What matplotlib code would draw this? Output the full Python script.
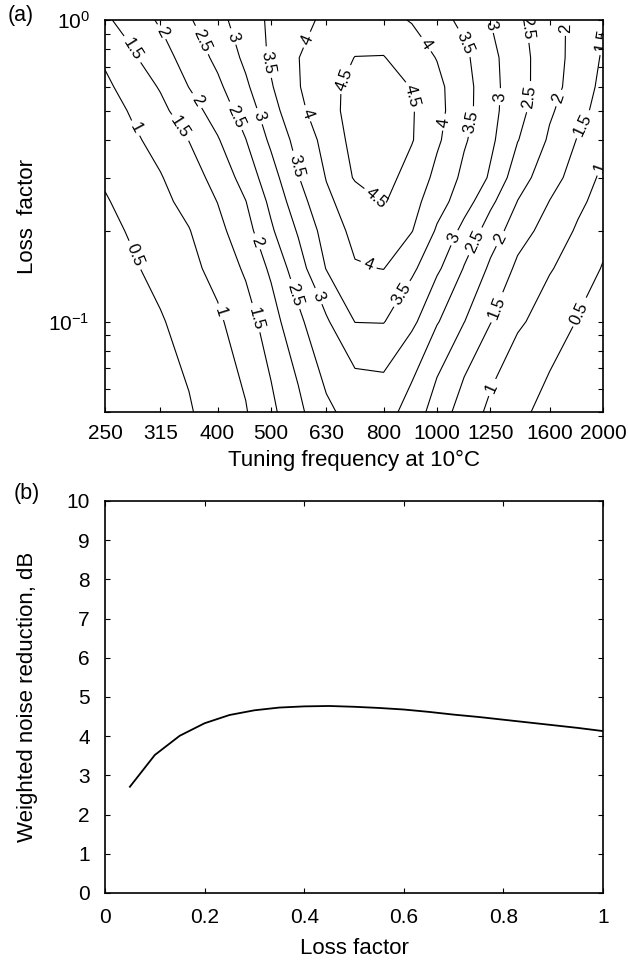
import numpy as np
import matplotlib.pyplot as plt
from matplotlib.ticker import NullLocator, NullFormatter

plt.rcParams['font.family'] = ['Liberation Sans', 'DejaVu Sans']
plt.rcParams['mathtext.default'] = 'regular'

### data ###

# 1/6-octave grid of tuning frequencies (Hz) and the loss factors
freq = [250, 280, 315, 355, 400, 450, 500, 560, 630, 710, 800,
        900, 1000, 1120, 1250, 1400, 1600, 1800, 2000]
loss = [0.05, 0.1, 0.15, 0.2, 0.25, 0.3, 0.4, 0.5, 0.6, 0.75, 1.0]

# weighted noise reduction (dB), one row per loss factor
nr_005 = [0.05, 0.15, 0.30, 0.46, 0.72, 0.97, 1.39, 1.88, 2.42, 2.66, 2.71, 2.28, 1.76, 1.27, 0.89, 0.60, 0.35, 0.20, 0.05]
nr_010 = [0.10, 0.27, 0.46, 0.69, 0.92, 1.29, 1.79, 2.39, 2.94, 3.51, 3.52, 3.12, 2.54, 2.01, 1.52, 1.08, 0.76, 0.48, 0.19]
nr_015 = [0.23, 0.44, 0.66, 0.87, 1.16, 1.58, 2.09, 2.79, 3.52, 3.96, 4.01, 3.60, 3.09, 2.47, 1.91, 1.40, 1.04, 0.75, 0.47]
nr_020 = [0.35, 0.56, 0.77, 0.98, 1.36, 1.82, 2.43, 3.05, 3.72, 4.14, 4.32, 4.02, 3.44, 2.85, 2.27, 1.72, 1.28, 0.94, 0.66]
nr_025 = [0.46, 0.67, 0.88, 1.15, 1.51, 1.99, 2.62, 3.30, 3.91, 4.25, 4.54, 4.17, 3.71, 3.22, 2.61, 1.99, 1.49, 1.11, 0.80]
nr_030 = [0.56, 0.77, 0.97, 1.28, 1.67, 2.21, 2.80, 3.48, 4.02, 4.55, 4.66, 4.32, 3.87, 3.38, 2.94, 2.21, 1.70, 1.27, 0.90]
nr_040 = [0.71, 0.91, 1.18, 1.51, 1.96, 2.49, 3.10, 3.68, 4.16, 4.68, 4.76, 4.53, 4.08, 3.56, 3.10, 2.52, 1.93, 1.47, 1.12]
nr_050 = [0.75, 1.06, 1.38, 1.78, 2.23, 2.73, 3.32, 3.88, 4.32, 4.70, 4.75, 4.54, 4.14, 3.68, 3.15, 2.67, 2.07, 1.66, 1.30]
nr_060 = [0.90, 1.22, 1.54, 2.01, 2.40, 2.92, 3.46, 3.97, 4.35, 4.65, 4.68, 4.48, 4.12, 3.68, 3.17, 2.69, 2.20, 1.75, 1.38]
nr_075 = [1.08, 1.44, 1.81, 2.20, 2.62, 3.11, 3.58, 3.99, 4.26, 4.51, 4.52, 4.24, 3.98, 3.60, 3.14, 2.68, 2.22, 1.81, 1.45]
nr_100 = [1.42, 1.73, 2.07, 2.45, 2.86, 3.25, 3.59, 3.88, 4.08, 4.15, 4.13, 3.97, 3.68, 3.37, 2.99, 2.60, 2.20, 1.84, 1.55]

freq_ticks = [250, 315, 400, 500, 630, 800, 1000, 1250, 1600, 2000]
levels = [0.5, 1, 1.5, 2, 2.5, 3, 3.5, 4, 4.5]

# panel (b): best weighted noise reduction vs loss factor
loss_b = [0.05, 0.1, 0.15, 0.2, 0.25, 0.3, 0.35, 0.4, 0.45, 0.5,
          0.55, 0.6, 0.65, 0.7, 0.75, 0.8, 0.85, 0.9, 0.95, 1.0]
nr_b = [2.71, 3.52, 4.01, 4.33, 4.54, 4.66, 4.73, 4.76, 4.77, 4.75,
        4.72, 4.68, 4.62, 4.55, 4.49, 4.42, 4.35, 4.28, 4.21, 4.13]
xb_ticks = [0, 0.2, 0.4, 0.6, 0.8, 1]
xb_labels = ['0', '0.2', '0.4', '0.6', '0.8', '1']

nr_grid = np.array([nr_005, nr_010, nr_015, nr_020, nr_025, nr_030,
                    nr_040, nr_050, nr_060, nr_075, nr_100])

### figure ###

fig = plt.figure(figsize=(6.28, 9.63), dpi=100)
ax1 = fig.add_axes([0.1672, 0.5717, 0.793, 0.4076])
ax2 = fig.add_axes([0.1672, 0.0727, 0.793, 0.4071])

ax1.set_xscale('log')
ax1.set_yscale('log')
ax1.set_xlim(250, 2000)
ax1.set_ylim(0.05, 1)

cs = ax1.contour(freq, loss, nr_grid, levels=levels, colors='k', linewidths=0.8)

# label spots (frequency, loss factor)
label_pos = [(280, 0.796), (342, 0.439), (287, 0.442), (317, 0.913), (369, 0.543),
             (369, 0.846), (426, 0.474), (421, 0.872), (474, 0.477), (492, 0.72),
             (552, 0.326), (564, 0.878), (576, 0.485), (668, 0.642), (765, 0.248),
             (893, 0.556), (964, 0.839), (1043, 0.456), (749, 0.152), (1133, 0.846),
             (1157, 0.459), (865, 0.123), (1263, 0.963), (1308, 0.556), (1069, 0.19),
             (1474, 0.941), (1461, 0.556), (1173, 0.184), (1705, 0.941), (1636, 0.556),
             (1311, 0.187), (1990, 0.859), (1815, 0.456), (1283, 0.111), (1959, 0.326),
             (1248, 0.0605), (1802, 0.107), (286, 0.167), (407, 0.108), (468, 0.1016),
             (472, 0.184), (552, 0.123), (609, 0.121)]
ax1.clabel(cs, fmt='%g', fontsize=12, inline=True, inline_spacing=4, manual=label_pos)

ax1.xaxis.set_minor_locator(NullLocator())
ax1.set_xticks(freq_ticks)
ax1.set_xticklabels([str(f) for f in freq_ticks])
ax1.set_yticks([0.1, 1])
ax1.set_yticklabels([r'$10^{-1}$', r'$10^{0}$'])
ax1.yaxis.set_minor_formatter(NullFormatter())

ax1.tick_params(axis='both', which='both', direction='in', top=True, right=True,
                length=3.6, width=0.8, labelsize=15)
ax1.tick_params(axis='x', pad=8)
ax1.tick_params(axis='y', pad=11)
ax1.set_xlabel('Tuning frequency at 10\u00b0C', fontsize=16)
ax1.set_ylabel('Loss  factor', fontsize=16)
ax1.xaxis.set_label_coords(0.5, -0.096)
ax1.yaxis.set_label_coords(-0.135, 0.5)

ax2.plot(loss_b, nr_b, color='k', linewidth=1.3)
ax2.set_xlim(0, 1)
ax2.set_ylim(0, 10)
ax2.set_xticks(xb_ticks)
ax2.set_xticklabels(xb_labels)
ax2.set_yticks(range(0, 11))
ax2.tick_params(axis='both', direction='in', top=True, right=True,
                length=3.6, width=0.8, labelsize=15)
ax2.tick_params(axis='x', pad=11)
ax2.tick_params(axis='y', pad=11)
ax2.set_xlabel('Loss factor', fontsize=16)
ax2.set_ylabel('Weighted noise reduction, dB', fontsize=16)
ax2.xaxis.set_label_coords(0.5, -0.115)
ax2.yaxis.set_label_coords(-0.135, 0.5)

for ax in (ax1, ax2):
    for sp in ax.spines.values():
        sp.set_linewidth(1.2)

fig.text(0.012, 0.984, '(a)', fontsize=15.5, va='center')
fig.text(0.021, 0.488, '(b)', fontsize=15.5, va='center')

fig.savefig('out.png', dpi=100)
